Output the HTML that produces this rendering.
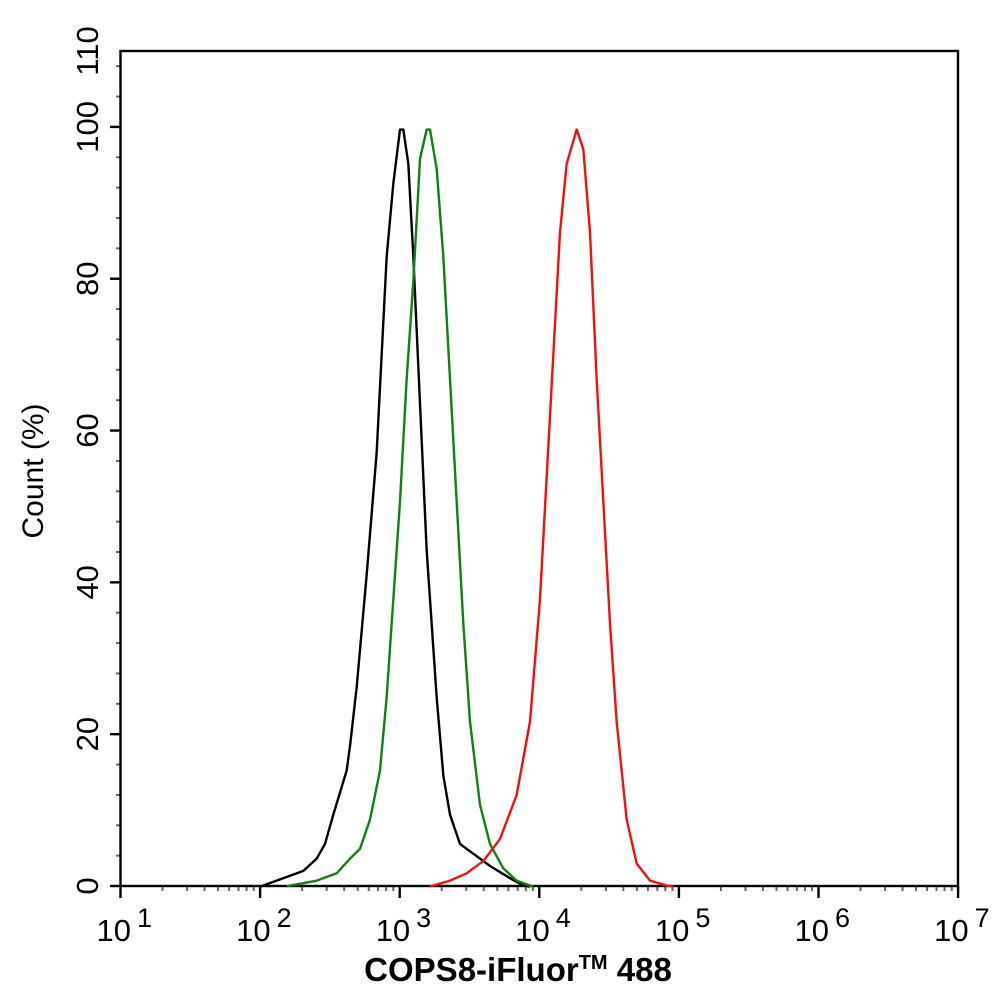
<!DOCTYPE html>
<html><head><meta charset="utf-8"><style>
body{margin:0;background:#fff}
svg{display:block;font-family:"Liberation Sans",Arial,sans-serif}
</style></head><body>
<svg width="994" height="1002" viewBox="0 0 994 1002" xmlns="http://www.w3.org/2000/svg">
<rect width="994" height="1002" fill="#fff"/>
<g id="ticks"></g>
<rect x="120.5" y="51" width="837.5" height="835" fill="none" stroke="#000" stroke-width="2.4"/>
<g transform="translate(250,110) scale(0.33333,0.4893)" fill="none" stroke-width="2.4" stroke-linejoin="round">
<polyline vector-effect="non-scaling-stroke" stroke="#000" points="30,1587 40,1585 120,1565 160,1555 200,1530 225,1500 250,1440 290,1350 300,1300 320,1180 350,950 380,700 410,300 430,150 450,40 460,40 475,110 490,300 510,600 530,900 545,1050 560,1200 580,1360 600,1440 630,1500 680,1525 720,1545 780,1570 820,1585 840,1587"/>
<polyline vector-effect="non-scaling-stroke" stroke="#138013" points="110,1587 120,1585 200,1575 260,1560 300,1530 330,1510 360,1450 390,1350 410,1200 430,1000 450,800 470,550 490,350 510,100 530,40 540,40 560,120 580,300 600,550 620,800 640,1050 660,1250 690,1420 720,1500 760,1550 800,1575 840,1585 850,1587"/>
<polyline vector-effect="non-scaling-stroke" stroke="#f01010" points="540,1587 550,1585 600,1575 650,1560 700,1535 750,1490 800,1400 840,1250 870,1000 890,750 910,500 930,250 950,110 980,40 1000,80 1020,250 1040,550 1060,800 1080,1050 1100,1250 1130,1450 1160,1540 1200,1575 1250,1585 1270,1587"/>
</g>
<g font-size="31" fill="#000" text-anchor="middle" id="ylabels"></g>
<g font-size="31" fill="#000" id="xlabels"></g>
<text transform="translate(43,471) rotate(-90)" font-size="30" text-anchor="middle">Count  (%)</text>
<text x="518" y="981" font-size="33" font-weight="bold" text-anchor="middle">COPS8-iFluor<tspan font-size="20" dy="-12">TM</tspan><tspan dy="12"> 488</tspan></text>
<script>
var ns="http://www.w3.org/2000/svg";
function el(p,t,a,txt){var e=document.createElementNS(ns,t);for(var k in a)e.setAttribute(k,a[k]);if(txt)e.textContent=txt;p.appendChild(e);return e;}
var T=document.getElementById('ticks'),Y=document.getElementById('ylabels'),X=document.getElementById('xlabels');
var y0=886,py=835/110;
for(var v=0;v<=110;v+=4){var y=y0-v*py;el(T,'line',{x1:116,x2:120,y1:y,y2:y,stroke:'#666','stroke-width':2});}
for(var v=0;v<=110;v+=20){var y=y0-v*py;el(T,'line',{x1:110,x2:120,y1:y,y2:y,stroke:'#000','stroke-width':2.4});}
[0,20,40,60,80,100,110].forEach(function(v){var y=y0-v*py;el(Y,'text',{transform:'translate(98,'+y+') rotate(-90)'},String(v));});
var x0=120.5,dx=139.6;
for(var d=0;d<6;d++)for(var m=2;m<10;m++){var x=x0+(d+Math.log10(m))*dx;el(T,'line',{x1:x,x2:x,y1:886,y2:891,stroke:'#666','stroke-width':2});}
for(var d=0;d<=6;d++){var x=x0+d*dx;el(T,'line',{x1:x,x2:x,y1:886,y2:898,stroke:'#000','stroke-width':2.4});
var t=el(X,'text',{x:x-24,y:941});el(t,'tspan',{},'10');el(t,'tspan',{dx:6,dy:-14,'font-size':27},String(d+1));}
</script>
</svg>
</body></html>
